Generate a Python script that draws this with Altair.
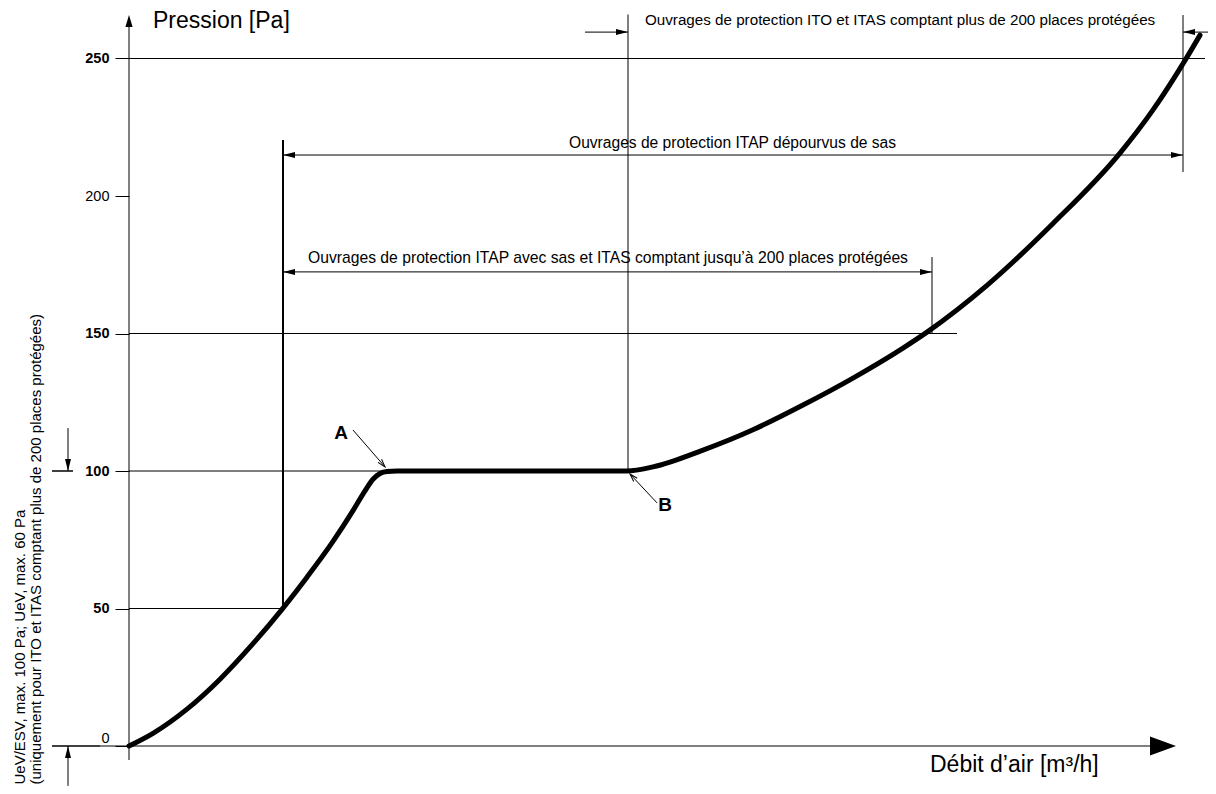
import altair as alt
import pandas as pd

FONT = "Liberation Sans"

# ---- main characteristic curve (flow units, pressure Pa) ----
curve_x = [0, 24, 58, 91, 124, 153, 178, 204, 224, 236, 244, 251, 258, 268,
           498, 524, 574, 624, 674, 724, 774, 798, 858, 924, 991, 1024, 1058, 1071]
curve_y = [0, 4.6, 13.4, 24.3, 37.2, 49.7, 61.4, 74.4, 85.6, 92.8, 97.0, 99.1, 99.85, 100,
           100, 101.5, 107.6, 115.0, 124.0, 133.8, 144.7, 150.5, 167.5, 190.0, 215.6, 231.3, 250.5, 258.5]

# ---- y axis ticks ----
y_ticks = [0, 50, 100, 150, 200, 250]

# ---- line segments (axes, reference lines, dimension lines, leaders) ----
seg_x1 = [0, 0, 0, 0, 0, 0, 154, 499, 803, 1054, 456, 1054, 154, 154, -77, -61, -77, -29, -61, 224, 528]
seg_y1 = [-5.1, 0, 250, 150, 100, 50, 50, 100, 150, 208.7, 259.6, 259.6, 214.9, 172.4, 100, 115.6, 0, 0, -14.5, 114.9, 88.4]
seg_x2 = [0, 1030, 1076, 828, 499, 154, 154, 499, 803, 1054, 499, 1090, 1054, 803, -56, -61, -29, 0, -61, 256, 501]
seg_y2 = [262, 0, 250, 150, 100, 50, 220.4, 266, 177.8, 265.8, 259.6, 259.6, 214.9, 172.4, 100, 100, 0, 0, 0, 101.5, 98.9]
seg_w = [1, 1, 1, 1, 1, 1, 2, 1, 1, 1, 1, 1, 1, 1, 1.5, 1, 1.5, 1, 1, 1, 1]

# ---- filled arrow heads ----
arr_x = [0, 1047, 499, 1054, 154, 1054, 154, 803, -61, -61]
arr_y = [265.8, 0, 259.6, 259.6, 214.9, 214.9, 172.4, 172.4, 100, 0]
arr_angle = [270, 0, 0, 180, 180, 0, 180, 0, 90, 270]
arr_kind = ["yaxis", "big", "small", "small", "small", "small", "small", "small", "small", "small"]

# ---- open arrow heads (A / B leaders) ----
open_x = [256, 501]
open_y = [101.5, 98.9]
open_angle = [49, 227]

# ---- texts ----
txt_plain = ["Ouvrages de protection ITO et ITAS comptant plus de 200 places protégées",
             "Ouvrages de protection ITAP dépourvus de sas",
             "Ouvrages de protection ITAP avec sas et ITAS comptant jusqu’à 200 places protégées"]
txt_plain_x = [516, 440, 179]
txt_plain_y = [262.2, 217.3, 175.6]
txt_plain_size = [15.2, 15.6, 15.7]

title_txt = ["Pression [Pa]", "Débit d’air [m³/h]"]
title_x = [24, 801]
title_y = [261.1, -9.45]

side_txt = ["UeV/ESV, max. 100 Pa; UeV, max. 60 Pa",
            "(uniquement pour ITO et ITAS comptant plus de 200 places protégées)"]
side_x = [-104, -88]
side_y = [-14.0, -14.0]

pt_txt = ["A", "B"]
pt_x = [212, 536]
pt_y = [111.6, 85.5]

SHAPES = {
    "small": "M0,0L-2,-0.5L-2,0.5Z",
    "yaxis": "M0,0L-2,-0.6L-2,0.6Z",
    "big": "M0,0L-2,-0.73L-2,0.73Z",
}
SIZES = {"small": 144, "yaxis": 144, "big": 676}
OPEN_SHAPE = "M-2,-0.6L0,0L-2,0.6"

xs = alt.Scale(domain=[0, 1047], nice=False, zero=False)
ys = alt.Scale(domain=[0, 268], nice=False, zero=False)

y_axis = alt.Axis(
    values=y_ticks, title=None, domain=False, grid=False,
    tickSize=14, tickColor="black", tickWidth=1,
    labelFont=FONT, labelFontSize=14.5, labelColor="black", labelPadding=6,
    labelFontWeight={"condition": {"test": "datum.value == 0 || datum.value == 200", "value": "normal"},
                     "value": "bold"},
    labelOffset={"condition": {"test": "datum.value == 0", "value": -8}, "value": 0},
)


def X(f):
    return alt.X(f, type="quantitative", scale=xs, axis=None)


def Y(f):
    return alt.Y(f, type="quantitative", scale=ys, axis=y_axis)


curve_df = pd.DataFrame({"x": curve_x, "y": curve_y})
seg_df = pd.DataFrame({"x": seg_x1, "y": seg_y1, "x2": seg_x2, "y2": seg_y2, "w": seg_w})
arr_df = pd.DataFrame({"x": arr_x, "y": arr_y, "angle": arr_angle,
                       "shape": [SHAPES[k] for k in arr_kind],
                       "size": [SIZES[k] for k in arr_kind]})
open_df = pd.DataFrame({"x": open_x, "y": open_y, "angle": open_angle})
plain_df = pd.DataFrame({"x": txt_plain_x, "y": txt_plain_y, "t": txt_plain, "s": txt_plain_size})
title_df = pd.DataFrame({"x": title_x, "y": title_y, "t": title_txt})
side_df = pd.DataFrame({"x": side_x, "y": side_y, "t": side_txt})
pt_df = pd.DataFrame({"x": pt_x, "y": pt_y, "t": pt_txt})

segs = alt.Chart(seg_df).mark_rule(color="black").encode(
    x=X("x"), y=Y("y"), x2="x2", y2="y2",
    strokeWidth=alt.StrokeWidth("w:Q", scale=None),
)

curve = alt.Chart(curve_df).mark_line(
    color="black", strokeWidth=5, interpolate="monotone", strokeCap="round", strokeJoin="round"
).encode(x=X("x"), y=Y("y"), order="x:Q")

arrows = alt.Chart(arr_df).mark_point(filled=True, color="black", opacity=1).encode(
    x=X("x"), y=Y("y"),
    shape=alt.Shape("shape:N", scale=None),
    size=alt.Size("size:Q", scale=None),
    angle=alt.Angle("angle:Q", scale=None),
)

open_arrows = alt.Chart(open_df).mark_point(
    filled=False, color="black", strokeWidth=1, shape=OPEN_SHAPE, size=64, opacity=1
).encode(x=X("x"), y=Y("y"), angle=alt.Angle("angle:Q", scale=None))

plain_text = alt.Chart(plain_df).mark_text(
    font=FONT, align="left", baseline="alphabetic", color="black"
).encode(x=X("x"), y=Y("y"), text="t:N", size=alt.Size("s:Q", scale=None))

titles = alt.Chart(title_df).mark_text(
    font=FONT, fontSize=23, align="left", baseline="alphabetic", color="black"
).encode(x=X("x"), y=Y("y"), text="t:N")

side = alt.Chart(side_df).mark_text(
    font=FONT, fontSize=15, align="left", baseline="alphabetic", color="black", angle=270
).encode(x=X("x"), y=Y("y"), text="t:N")

pts = alt.Chart(pt_df).mark_text(
    font=FONT, fontSize=19, fontWeight="bold", align="center", baseline="alphabetic", color="black"
).encode(x=X("x"), y=Y("y"), text="t:N")

chart = alt.layer(segs, curve, arrows, open_arrows, plain_text, titles, side, pts).properties(
    width=1047, height=737,
    autosize=alt.AutoSizeParams(type="none"),
    padding={"left": 121, "top": 1, "right": 32, "bottom": 40},
    background="white",
).configure_view(stroke=None)

chart.save("out.html", embed_options={"renderer": "svg", "actions": False})
